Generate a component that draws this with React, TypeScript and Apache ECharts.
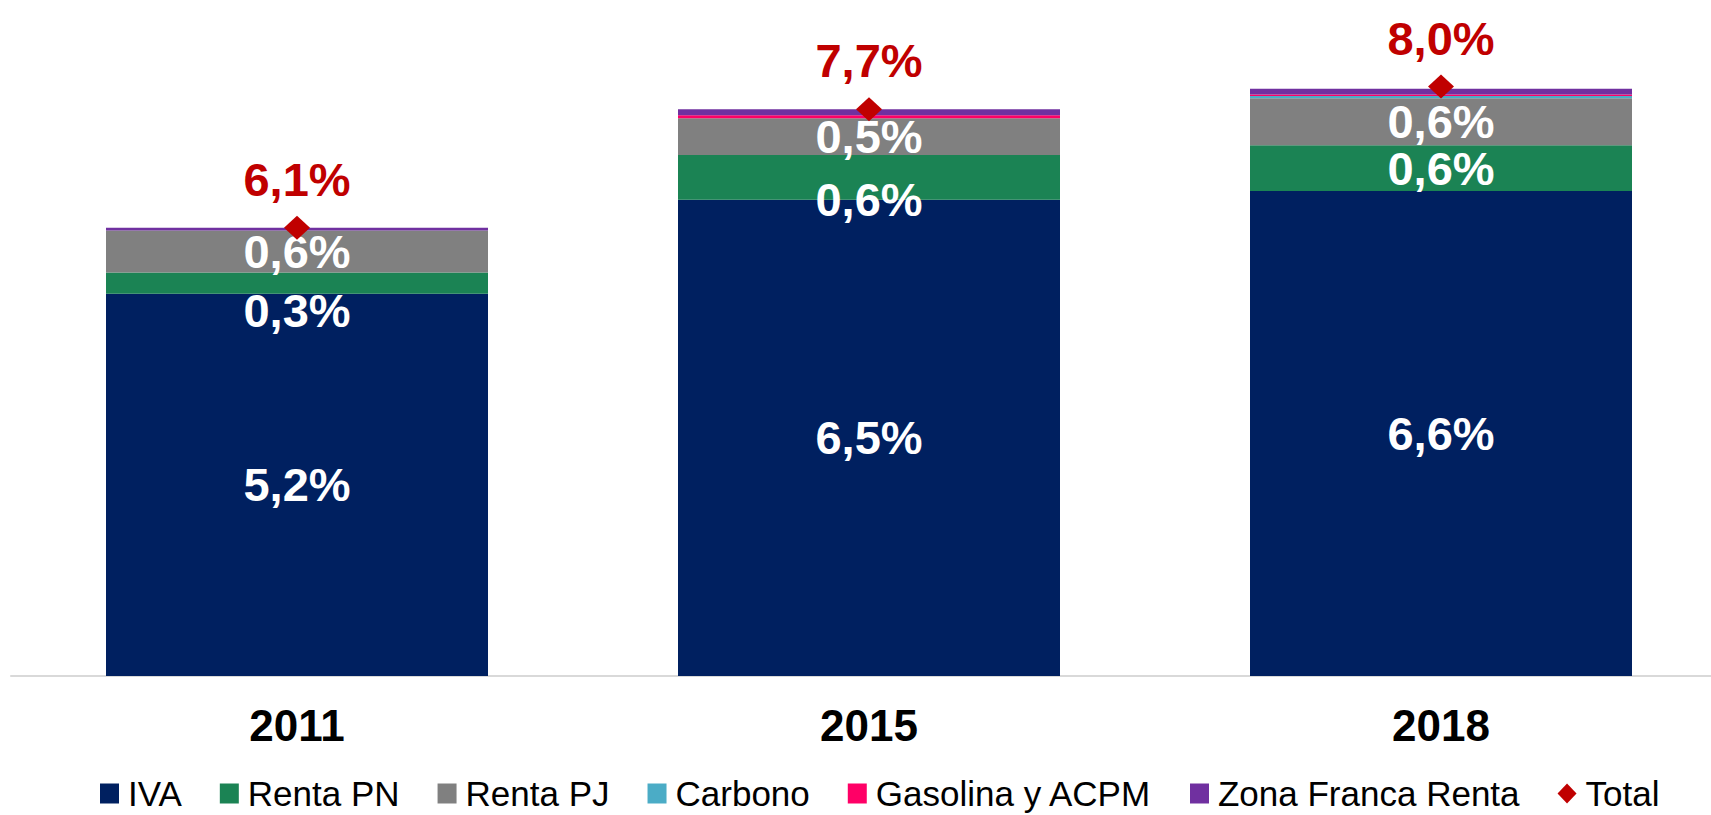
import React, { useEffect, useRef } from "react";
import * as echarts from "echarts";

const categories = ["2011", "2015", "2018"];
const iva = [5.2, 6.48, 6.6];
const rentaPN = [0.29, 0.61, 0.62];
const rentaPJ = [0.57, 0.5, 0.64];
const carbono = [0, 0, 0.03];
const gasolina = [0, 0.04, 0.02];
const zonaFranca = [0.04, 0.08, 0.08];
const total = [6.1, 7.71, 8.02];

const FONT = "'Liberation Sans', Arial, sans-serif";
const fmt = (v: number) => v.toFixed(1).replace(".", ",") + "%";

export default function App() {
  const ref = useRef<HTMLDivElement>(null);
  useEffect(() => {
    if (!ref.current) return;
    const chart = echarts.init(ref.current, null, { renderer: "svg" });
    const barLabel = {
      show: true,
      position: "inside" as const,
      color: "#ffffff",
      fontSize: 47,
      fontWeight: "bold" as const,
      fontFamily: FONT,
      formatter: (p: any) => fmt(p.value),
    };
    const pnOffsets = [27, 22, 0];
    const bar = (name: string, data: number[], color: string, labeled: boolean, offsets?: number[]) => ({
      name,
      type: "bar",
      stack: "t",
      barWidth: 382,
      itemStyle: { color },
      label: labeled ? barLabel : { show: false },
      data: data.map((v, i) =>
        offsets && offsets[i] ? { value: v, label: { offset: [0, offsets[i]] } } : v
      ),
    });
    chart.setOption({
      animation: false,
      grid: { left: 11, width: 1716, top: 14.5, height: 661.5, containLabel: false },
      legend: {
        left: 95,
        top: 771,
        itemWidth: 19,
        itemHeight: 20,
        itemGap: 38,
        textStyle: { fontSize: 35, color: "#000", fontFamily: FONT, padding: [0, 0, 0, 4] },
        data: [
          { name: "IVA", icon: "rect" },
          { name: "Renta PN", icon: "rect" },
          { name: "Renta PJ", icon: "rect" },
          { name: "Carbono", icon: "rect" },
          { name: "Gasolina y ACPM", icon: "rect" },
          { name: "Zona Franca Renta", icon: "rect" },
          { name: "Total", icon: "diamond" },
        ],
      },
      xAxis: {
        type: "category",
        data: categories,
        axisLine: { lineStyle: { color: "#d9d9d9", width: 2 } },
        axisTick: { show: false },
        axisLabel: {
          color: "#000",
          fontSize: 44,
          fontWeight: "bold",
          fontFamily: FONT,
          margin: 27,
        },
      },
      yAxis: {
        type: "value",
        min: 0,
        max: 9,
        show: false,
        splitLine: { show: false },
      },
      series: [
        bar("IVA", iva, "#002060", true),
        bar("Renta PN", rentaPN, "#1b8354", true, pnOffsets),
        bar("Renta PJ", rentaPJ, "#808080", true),
        bar("Carbono", carbono, "#4bacc6", false),
        bar("Gasolina y ACPM", gasolina, "#ff0066", false),
        bar("Zona Franca Renta", zonaFranca, "#7030a0", false),
        {
          name: "Total",
          type: "scatter",
          symbol: "diamond",
          symbolSize: [26, 24],
          itemStyle: { color: "#c00000", opacity: 1 },
          z: 10,
          label: {
            show: true,
            position: "top",
            distance: 13,
            color: "#c00000",
            fontSize: 47,
            fontWeight: "bold",
            fontFamily: FONT,
            formatter: (p: any) => fmt(p.value),
          },
          data: total,
        },
      ],
    });
    return () => chart.dispose();
  }, []);
  return (
    <div
      style={{
        position: "absolute",
        left: 0,
        top: 0,
        width: 1711,
        height: 815,
        overflow: "hidden",
        background: "#fff",
      }}
    >
      <div ref={ref} style={{ width: 1740, height: 815 }} />
    </div>
  );
}
